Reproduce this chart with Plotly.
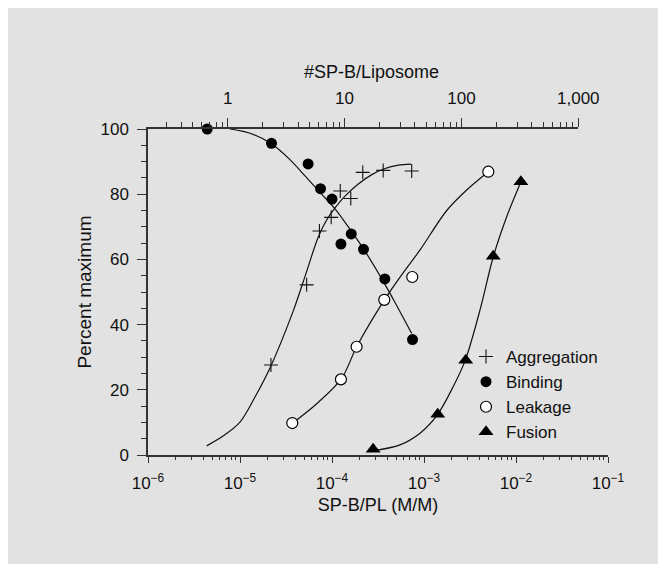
import plotly.graph_objects as go

# ---------------- data ----------------
agg_x = [2.17e-5, 5.3e-5, 7.3e-5, 9.8e-5, 1.23e-4, 1.6e-4, 2.16e-4, 3.6e-4, 7.35e-4]
agg_y = [27.6, 52.2, 68.7, 72.9, 81.0, 78.7, 86.7, 87.3, 87.1]

bind_x = [4.4e-6, 2.2e-5, 5.5e-5, 7.5e-5, 1.0e-4, 1.25e-4, 1.62e-4, 2.2e-4, 3.75e-4, 7.5e-4]
bind_y = [100, 95.6, 89.3, 81.7, 78.5, 64.7, 67.8, 63.1, 54.0, 35.4]

leak_x = [3.7e-5, 1.25e-4, 1.85e-4, 3.7e-4, 7.45e-4, 5.0e-3]
leak_y = [9.8, 23.2, 33.2, 47.6, 54.6, 86.9]

fus_x = [2.8e-4, 1.41e-3, 2.84e-3, 5.66e-3, 1.13e-2]
fus_y = [1.8, 12.5, 29.1, 61.0, 83.8]

# fitted curves (x as log10 of SP-B/PL)
agg_curve_logx = [-5.362, -5.185, -5.0, -4.837, -4.674, -4.421, -4.293, -4.149, -4.058,
                  -3.967, -3.859, -3.714, -3.568, -3.424, -3.279, -3.141]
agg_curve_y = [2.8, 5.8, 10.1, 17.8, 26.7, 44.2, 54.8, 66.9, 72.1,
               75.8, 79.4, 83.1, 86.0, 87.9, 88.9, 89.2]

bind_curve_logx = [-5.109, -4.891, -4.655, -4.457, -4.293, -4.112, -3.967, -3.786, -3.641,
                   -3.460, -3.315, -3.134]
bind_curve_y = [100, 98.7, 95.4, 90.6, 85.6, 80.0, 75.5, 68.5, 62.5, 54.1, 46.8, 37.3]

leak_curve_logx = [-4.432, -4.163, -3.895, -3.732, -3.432, -3.239, -3.043, -2.753, -2.536, -2.301]
leak_curve_y = [9.7, 15.8, 23.5, 33.2, 47.5, 55.4, 62.9, 75.0, 81.3, 86.9]

fus_curve_logx = [-3.551, -3.261, -3.043, -2.855, -2.682, -2.551, -2.391, -2.247, -2.101, -1.946]
fus_curve_y = [1.3, 3.1, 6.7, 12.3, 21.0, 29.1, 44.5, 60.8, 73.1, 83.8]

x_tick_vals = [1e-6, 1e-5, 1e-4, 1e-3, 1e-2, 1e-1]
x_tick_text = ["10<sup>\u22126</sup>", "10<sup>\u22125</sup>", "10<sup>\u22124</sup>",
               "10<sup>\u22123</sup>", "10<sup>\u22122</sup>", "10<sup>\u22121</sup>"]
top_tick_vals = [1, 10, 100, 1000]
top_tick_text = ["1", "10", "100", "1,000"]

# ---------------- styling ----------------
BG = "#e2e2e2"
INK = "#111111"
AX = "#333333"
FONT = "Liberation Sans"

W, H = 666, 564
OFF = 8  # page body margin offset seen in the screenshot
L, R, T, B = 148 - OFF, 608 - OFF, 129 - OFF, 455 - OFF  # plot area in figure pixels


def px_x(p):  # screenshot pixel -> paper fraction
    return (p - OFF - L) / (R - L)


def px_y(p):
    return (B - (p - OFF)) / (B - T)


fig = go.Figure()

line_style = dict(color=INK, width=1.2, shape="spline", smoothing=0.9)

for lx, ly in [(agg_curve_logx, agg_curve_y), (bind_curve_logx, bind_curve_y),
               (leak_curve_logx, leak_curve_y), (fus_curve_logx, fus_curve_y)]:
    fig.add_trace(go.Scatter(x=[10 ** v for v in lx], y=ly, mode="lines",
                             line=line_style, showlegend=False, hoverinfo="skip",
                             cliponaxis=False))

fig.add_trace(go.Scatter(x=agg_x, y=agg_y, mode="markers", name="Aggregation",
                         cliponaxis=False,
                         marker=dict(symbol="cross-thin", size=10, color=INK,
                                     line=dict(color=INK, width=1.1))))
fig.add_trace(go.Scatter(x=bind_x, y=bind_y, mode="markers", name="Binding",
                         cliponaxis=False,
                         marker=dict(symbol="circle", size=11, color="black",
                                     line=dict(color="black", width=0))))
fig.add_trace(go.Scatter(x=leak_x, y=leak_y, mode="markers", name="Leakage",
                         cliponaxis=False,
                         marker=dict(symbol="circle", size=11, color="white",
                                     line=dict(color="black", width=1.2))))
fig.add_trace(go.Scatter(x=fus_x, y=fus_y, mode="markers", name="Fusion",
                         cliponaxis=False,
                         marker=dict(symbol="triangle-up", size=13, color="black",
                                     line=dict(color="black", width=0))))

# invisible trace so the top (#SP-B/Liposome) axis is drawn
fig.add_trace(go.Scatter(x=[1, 1000], y=[-50, -50], xaxis="x2", yaxis="y", mode="markers",
                         marker=dict(opacity=0), showlegend=False, hoverinfo="skip"))

top_end = px_x(578.3)
fig.update_layout(
    width=W, height=H,
    margin=dict(l=L, r=W - R, t=T, b=H - B, pad=0),
    paper_bgcolor=BG, plot_bgcolor="rgba(0,0,0,0)",
    font=dict(family=FONT, color=INK, size=17),
    xaxis=dict(type="log", range=[-6, -1], domain=[0, 1],
               tickmode="array", tickvals=x_tick_vals, ticktext=x_tick_text,
               ticks="outside", ticklen=6, tickwidth=1.3, tickcolor=AX,
               ticklabelstandoff=6,
               showline=True, linecolor=AX, linewidth=1.5,
               showgrid=False, zeroline=False,
               minor=dict(ticks="outside", ticklen=3.5, tickwidth=1, tickcolor=AX,
                          dtick="D1", showgrid=False),
               tickfont=dict(size=17),
               title=dict(text="SP-B/PL (M/M)", font=dict(size=18), standoff=6)),
    xaxis2=dict(type="log", range=[-0.682, 3.0], domain=[0, top_end], anchor="y",
                side="top", tickmode="array", tickvals=top_tick_vals, ticktext=top_tick_text,
                ticks="outside", ticklen=9, tickwidth=1.3, tickcolor=AX,
                ticklabelstandoff=7,
                showline=True, linecolor=AX, linewidth=1.5,
                showgrid=False, zeroline=False,
                minor=dict(ticks="outside", ticklen=5, tickwidth=1, tickcolor=AX,
                           dtick="D1", showgrid=False),
                tickfont=dict(size=17)),
    yaxis=dict(range=[0, 100], dtick=20, ticks="outside", ticklen=9, tickwidth=1.3,
               tickcolor=AX, showline=True, linecolor=AX, linewidth=1.5,
               ticklabelstandoff=5,
               showgrid=False, zeroline=False,
               minor=dict(ticks="outside", ticklen=5, tickwidth=1, tickcolor=AX,
                          dtick=5, showgrid=False),
               tickfont=dict(size=17),
               title=dict(text="Percent maximum", font=dict(size=19), standoff=4)),
    legend=dict(x=px_x(466), y=px_y(339), xanchor="left", yanchor="top",
                bgcolor="rgba(0,0,0,0)", font=dict(size=17, family=FONT),
                itemwidth=30, tracegroupgap=0),
    annotations=[dict(text="#SP-B/Liposome", xref="paper", yref="paper",
                      x=px_x(371.5), y=px_y(72), showarrow=False,
                      font=dict(size=18), xanchor="center", yanchor="middle")],
)

fig.write_html("out.html")
